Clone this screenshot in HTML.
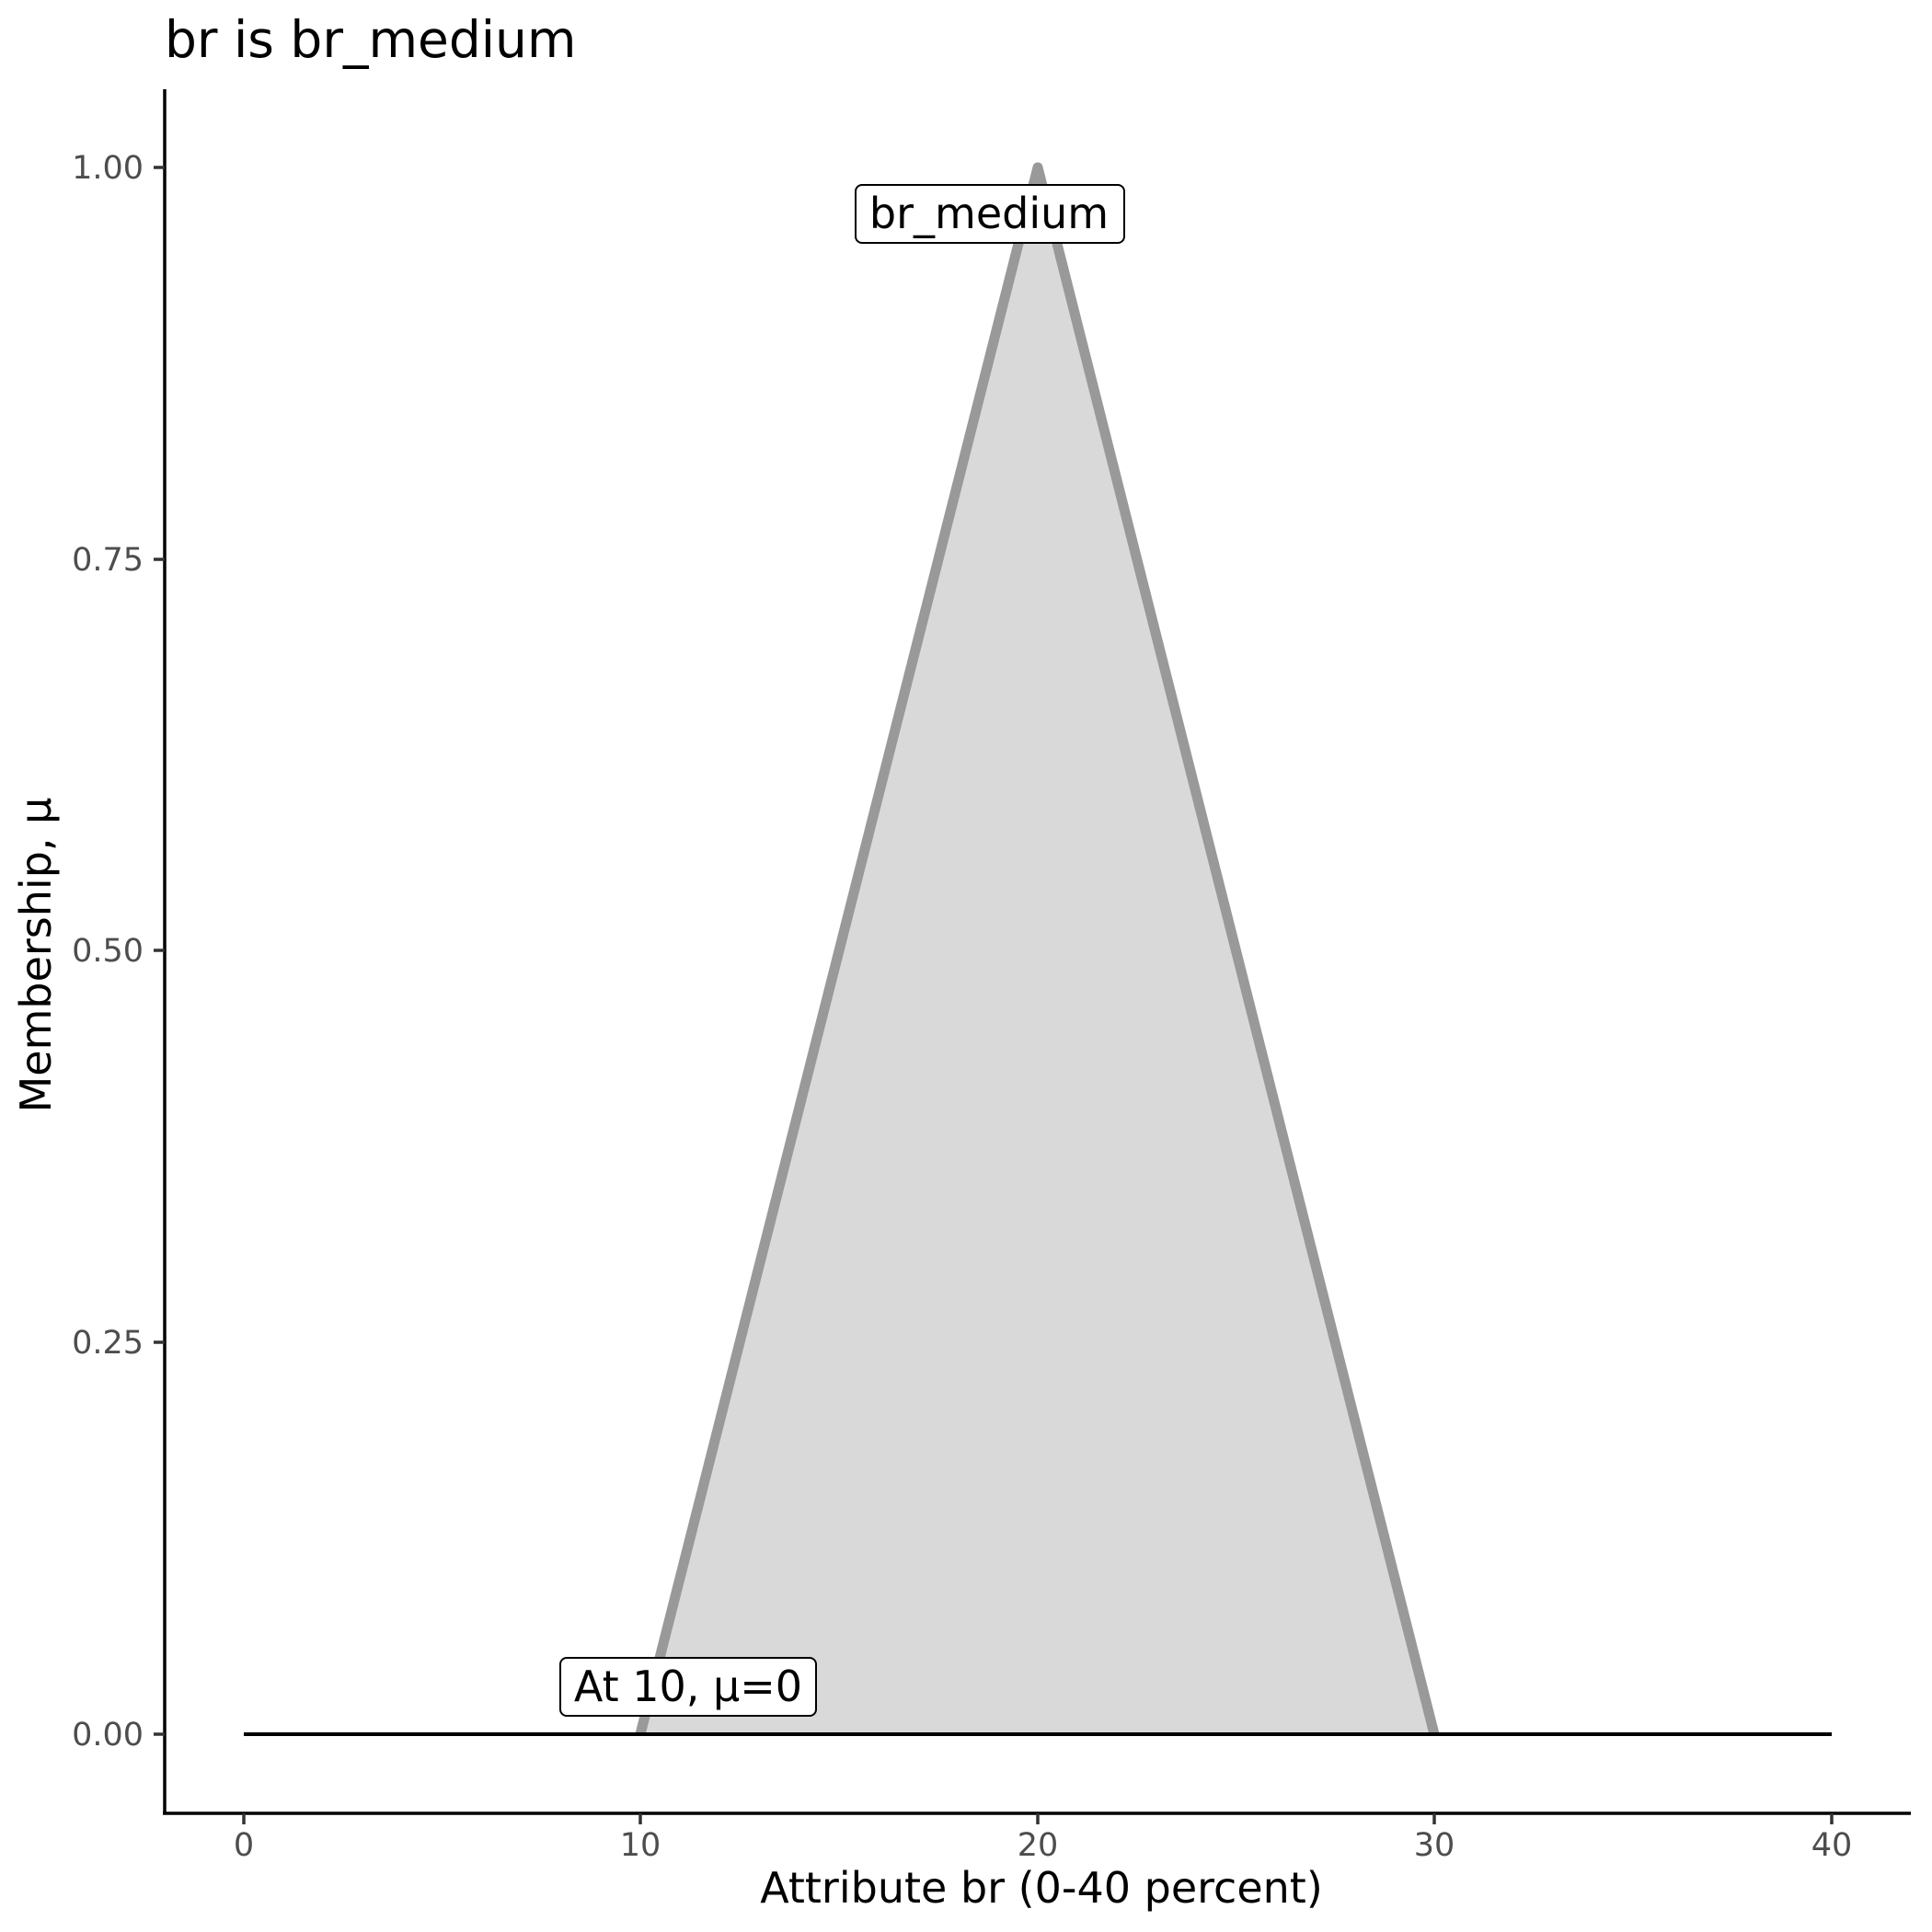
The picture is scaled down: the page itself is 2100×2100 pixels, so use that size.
<!DOCTYPE html>
<html><head><meta charset="utf-8"><style>html,body{margin:0;padding:0;background:#fff}svg{display:block}</style></head><body>
<svg width="2100" height="2100" xmlns="http://www.w3.org/2000/svg" font-family="DejaVu Sans, Liberation Sans, sans-serif">
<rect width="2100" height="2100" fill="#fff"/>
<text x="179" y="62" font-size="55" fill="#000">br is br_medium</text>
<polygon points="696,1885 1128,182 1559,1885" fill="#d9d9d9"/>
<polyline points="696,1885 1128,182 1559,1885" fill="none" stroke="#999" stroke-width="11" stroke-linejoin="round" stroke-linecap="butt"/>
<line x1="265" y1="1885" x2="1991" y2="1885" stroke="#000" stroke-width="4"/>
<line x1="179" y1="97" x2="179" y2="1972" stroke="#000" stroke-width="3.5"/>
<line x1="177" y1="1971" x2="2077" y2="1971" stroke="#000" stroke-width="3.5"/>
<g stroke="#333" stroke-width="3.5">
<line x1="167" y1="182" x2="179" y2="182"/><line x1="167" y1="608" x2="179" y2="608"/><line x1="167" y1="1033" x2="179" y2="1033"/><line x1="167" y1="1459" x2="179" y2="1459"/><line x1="167" y1="1885" x2="179" y2="1885"/>
<line x1="265" y1="1971" x2="265" y2="1983"/><line x1="696" y1="1971" x2="696" y2="1983"/><line x1="1128" y1="1971" x2="1128" y2="1983"/><line x1="1559" y1="1971" x2="1559" y2="1983"/><line x1="1991" y1="1971" x2="1991" y2="1983"/>
</g>
<g font-size="35" fill="#4d4d4d" text-anchor="end">
<text x="156" y="194">1.00</text><text x="156" y="620">0.75</text><text x="156" y="1045">0.50</text><text x="156" y="1471">0.25</text><text x="156" y="1897">0.00</text>
</g>
<g font-size="35" fill="#4d4d4d" text-anchor="middle">
<text x="265" y="2017">0</text><text x="696" y="2017">10</text><text x="1128" y="2017">20</text><text x="1559" y="2017">30</text><text x="1991" y="2017">40</text>
</g>
<text x="1132" y="2068" font-size="46" text-anchor="middle" fill="#000">Attribute br (0-40 percent)</text>
<text transform="translate(55,1038) rotate(-90)" font-size="46" text-anchor="middle" fill="#000">Membership, μ</text>
<rect x="930" y="201" width="292" height="63" rx="7" fill="#fff" stroke="#000" stroke-width="2"/>
<text x="1075" y="248" font-size="46" text-anchor="middle" fill="#000">br_medium</text>
<rect x="609" y="1802" width="278" height="63" rx="7" fill="#fff" stroke="#000" stroke-width="2"/>
<text x="748" y="1849" font-size="46" text-anchor="middle" fill="#000">At 10, μ=0</text>
</svg>
</body></html>
